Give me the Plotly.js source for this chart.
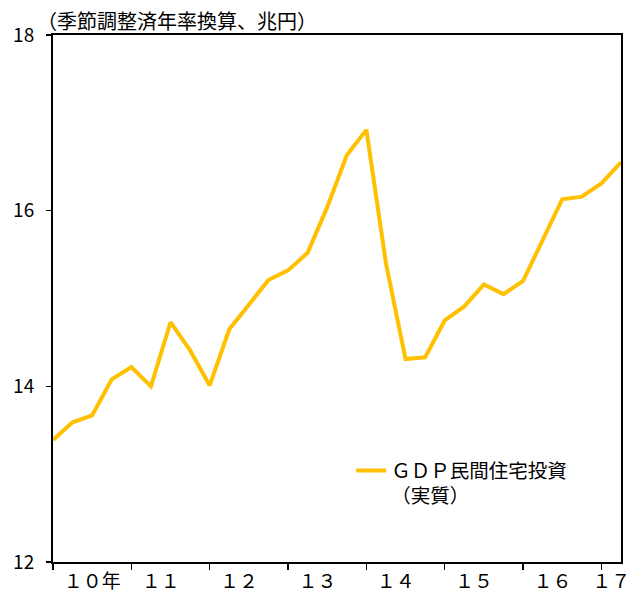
<!DOCTYPE html>
<html>
<head>
<meta charset="utf-8">
<script src="https://cdn.plot.ly/plotly-3.0.1.min.js"></script>
<style>
html,body{margin:0;padding:0;background:#fff;}
#chart{width:632px;height:592px;}
</style>
</head>
<body>
<div id="chart"></div>
<script>
// Quarterly index positions (2010Q1 .. 2017Q2)
const quarterIndex = [0,1,2,3,4,5,6,7,8,9,10,11,12,13,14,15,16,17,18,19,20,21,22,23,24,25,26,27,28,29];
// GDP private residential investment (real, SAAR, trillion yen)
const housingInvestment = [13.39,13.59,13.67,14.08,14.22,14.00,14.73,14.41,14.01,14.65,
                           14.93,15.21,15.32,15.52,16.04,16.63,16.92,15.40,14.31,14.33,
                           14.75,14.91,15.16,15.05,15.20,15.67,16.13,16.16,16.31,16.55];
const seriesName = "ＧＤＰ民間住宅投資<br>（実質）";
const yearTickPositions = [0,4,8,12,16,20,24,28];
const yearLabelPositions = [2.0,5.5,9.5,13.5,17.5,21.5,25.5,28.5];
const yearLabels = ["１０年","１１","１２","１３","１４","１５","１６","１７"];
const yTicks = [12,14,16,18];
const unitTitle = "（季節調整済年率換算、兆円）";

const cjk = "'Noto Sans CJK JP', 'Noto Sans', sans-serif";
const narrow = "'Liberation Sans Narrow', 'Arial Narrow', 'Noto Sans CJK JP', sans-serif";

const traces = [
  {
    x: quarterIndex, y: housingInvestment, type: "scatter", mode: "lines",
    name: seriesName,
    line: {color: "#FFC000", width: 4},
    xaxis: "x", yaxis: "y", hoverinfo: "skip"
  },
  {
    x: quarterIndex, y: housingInvestment, type: "scatter", mode: "lines",
    line: {color: "rgba(0,0,0,0)", width: 0},
    xaxis: "x2", yaxis: "y", showlegend: false, hoverinfo: "skip"
  }
];

const layout = {
  width: 632, height: 592,
  margin: {l: 53, r: 11, t: 35, b: 30, pad: 0},
  paper_bgcolor: "#ffffff", plot_bgcolor: "#ffffff",
  showlegend: true,
  legend: {
    x: 0.525, y: 0.21, xanchor: "left", yanchor: "top",
    bgcolor: "rgba(0,0,0,0)", borderwidth: 0,
    valign: "top",
    font: {family: cjk, size: 19.5, color: "#000"}
  },
  title: {
    text: unitTitle,
    font: {family: cjk, size: 20, color: "#000"},
    xref: "paper", x: 0, xanchor: "left",
    yref: "container", y: 1 - 22/592, yanchor: "middle",
    pad: {l: -16}
  },
  xaxis: {
    range: [0, 29], fixedrange: true,
    tickmode: "array", tickvals: yearTickPositions, showticklabels: false,
    ticks: "outside", ticklen: 6, tickwidth: 1.5, tickcolor: "#000",
    showline: true, linecolor: "#000", linewidth: 2, mirror: true,
    showgrid: false, zeroline: false
  },
  xaxis2: {
    overlaying: "x", side: "bottom", range: [0, 29], fixedrange: true,
    tickmode: "array", tickvals: yearLabelPositions, ticktext: yearLabels,
    ticks: "", showline: false, showgrid: false, zeroline: false,
    ticklabelstandoff: 6,
    tickfont: {family: cjk, size: 19, color: "#000"}
  },
  yaxis: {
    range: [12, 18], fixedrange: true,
    tickmode: "array", tickvals: yTicks,
    ticks: "outside", ticklen: 5, tickwidth: 1.5, tickcolor: "#000",
    showline: true, linecolor: "#000", linewidth: 2, mirror: true,
    showgrid: false, zeroline: false,
    ticklabelstandoff: 8,
    tickfont: {family: narrow, size: 19, color: "#000"}
  }
};

Plotly.newPlot("chart", traces, layout, {displayModeBar: false, staticPlot: true});
</script>
</body>
</html>
